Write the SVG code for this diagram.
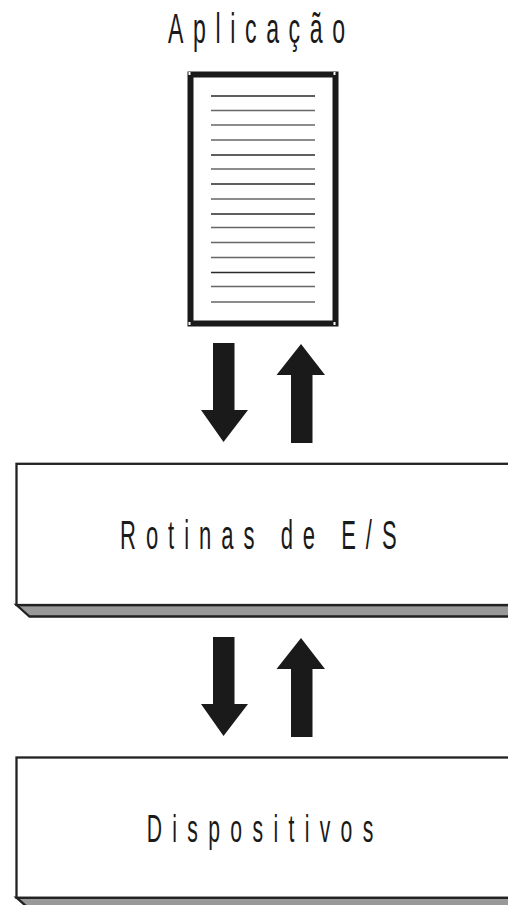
<svg xmlns="http://www.w3.org/2000/svg" width="508" height="905" viewBox="0 0 508 905">
<style>
.lbl{font-family:"Liberation Sans",Arial,sans-serif;fill:#1a1a1a}
.box{fill:#fff;stroke:#222;stroke-width:2.3}
.shadow{fill:#999;stroke:#222;stroke-width:2.3}
.arrow{fill:#1a1a1a}
.ld{stroke:#2a2a2a;stroke-width:1.3}
.lg{stroke:#666;stroke-width:1.5}
.corner{fill:#fff}
</style>
<rect width="508" height="905" fill="#fff"/>
<g id="aplicacao">
<text class="lbl" font-size="42" transform="translate(168,42.7) scale(0.55,1)" textLength="322" lengthAdjust="spacing">Aplicação</text>
<rect x="190.5" y="74.5" width="145" height="249" fill="#fff" stroke="#1a1a1a" stroke-width="6"/>
<rect class="corner" x="188.5" y="72" width="2" height="3"/>
<rect class="corner" x="333.5" y="72" width="2" height="3"/>
<rect class="corner" x="188.5" y="322" width="2" height="3"/>
<rect class="corner" x="333.5" y="322" width="2" height="3"/>
<line class="ld" x1="211" y1="96" x2="315" y2="96"/>
<line class="lg" x1="211" y1="110.5" x2="315" y2="110.5"/>
<line class="lg" x1="211" y1="125" x2="315" y2="125"/>
<line class="lg" x1="211" y1="140" x2="315" y2="140"/>
<line class="ld" x1="211" y1="155" x2="315" y2="155"/>
<line class="lg" x1="211" y1="169" x2="315" y2="169"/>
<line class="ld" x1="211" y1="184" x2="315" y2="184"/>
<line class="lg" x1="211" y1="199" x2="315" y2="199"/>
<line class="ld" x1="211" y1="214" x2="315" y2="214"/>
<line class="lg" x1="211" y1="227.5" x2="315" y2="227.5"/>
<line class="lg" x1="211" y1="242.5" x2="315" y2="242.5"/>
<line class="lg" x1="211" y1="257.5" x2="315" y2="257.5"/>
<line class="ld" x1="211" y1="272.5" x2="315" y2="272.5"/>
<line class="lg" x1="211" y1="286.5" x2="315" y2="286.5"/>
<line class="lg" x1="211" y1="302" x2="315" y2="302"/>
</g>
<g id="connectors">
<polygon class="arrow" points="213,343 234.5,343 234.5,410 248,410 223.5,442 201,410 213,410"/>
<polygon class="arrow" points="301,344 325,375 312.5,375 312.5,443 291,443 291,375 276.5,375"/>
<polygon class="arrow" points="213,637 234.5,637 234.5,704 248,704 223.5,736 201,704 213,704"/>
<polygon class="arrow" points="301,638 325,669 312.5,669 312.5,737 291,737 291,669 276.5,669"/>
</g>
<g id="rotinas">
<polygon class="shadow" points="16.5,605 29.5,616.5 512,616.5 512,605"/>
<rect class="box" x="16.5" y="463.8" width="500" height="141.2"/>
<text class="lbl" font-size="40" transform="translate(120,549.3) scale(0.55,1)" textLength="503" lengthAdjust="spacing">Rotinas de E/S</text>
</g>
<g id="dispositivos">
<polygon class="shadow" points="16.5,897.7 29.5,909 512,909 512,897.7"/>
<rect class="box" x="16.5" y="757.5" width="500" height="140.2"/>
<text class="lbl" font-size="38.5" transform="translate(146.7,842.3) scale(0.55,1)" textLength="412" lengthAdjust="spacing">Dispositivos</text>
</g>
</svg>
